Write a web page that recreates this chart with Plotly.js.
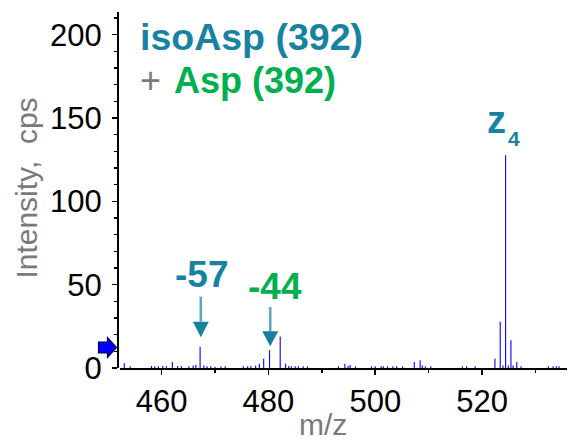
<!DOCTYPE html>
<html>
<head>
<meta charset="utf-8">
<script src="https://cdn.plot.ly/plotly-3.0.1.min.js"></script>
<style>
  html, body { margin: 0; padding: 0; background: #fff; }
  #chart { width: 568px; height: 441px; }
</style>
</head>
<body>
<div id="chart"></div>
<script>
// MS/MS fragment spectrum: m/z of each centroid and its intensity (cps)
const mz = [
  453.0, 454.1, 458.1, 458.7, 459.4, 460.2, 460.9, 462.0, 463.0, 463.7,
  465.1, 465.9, 466.4, 467.2, 467.9, 468.5, 469.2, 470.0, 471.1, 471.9,
  475.3, 476.1, 476.7, 477.6, 478.3, 479.1, 480.2, 482.2, 483.2, 483.8,
  484.3, 485.0, 485.6, 486.5, 487.3, 493.1, 494.3, 494.9, 495.3, 496.3,
  499.3, 500.0, 501.1, 501.5, 502.3, 503.3, 504.0, 505.1, 507.3, 508.4,
  508.8, 509.4, 510.4, 516.3, 517.1, 518.7, 522.4, 523.4, 523.9, 524.4,
  524.9, 525.4, 525.8, 526.5, 527.3, 532.4, 533.3, 533.9, 534.4
];
const intensity = [
  2.8, 1.0, 1.2, 1.0, 1.0, 1.2, 1.0, 3.6, 1.2, 1.0,
  1.0, 1.5, 2.0, 12.7, 1.5, 1.0, 1.0, 0.8, 1.0, 1.0,
  1.0, 1.0, 1.2, 1.5, 2.5, 5.6, 10.7, 18.9, 2.6, 1.2,
  1.0, 1.0, 1.0, 1.0, 1.0, 1.0, 2.6, 1.2, 1.8, 1.0,
  1.0, 1.0, 1.0, 1.0, 1.0, 1.0, 1.0, 1.0, 3.6, 4.6,
  1.5, 1.0, 1.0, 1.0, 1.0, 1.0, 5.6, 27.7, 1.5, 127.7,
  1.5, 16.7, 1.5, 3.6, 1.0, 1.0, 1.0, 1.0, 1.0
];

// Axis ticks
const xTickVals = [460, 480, 500, 520];
const yTickVals = [0, 50, 100, 150, 200];

// Annotated fragments (m/z of the marked peak)
const lossMz = { minus57: 467.2, minus44: 480.2 };
const z4Mz = 524.4;

const peakHeight = m => intensity[mz.indexOf(m)];

const TEAL = 'rgb(24,131,160)';
const TEAL_LINE = 'rgb(92,168,190)';
const TEAL_HEAD = 'rgb(24,127,157)';
const GREEN = '#00b050';
const GREY = '#7a7a7a';
const FONT = '"Liberation Sans", Arial, sans-serif';

const trace = {
  type: 'bar',
  x: mz,
  y: intensity,
  width: 0.22,
  marker: { color: '#1010ff', line: { width: 0 } },
  hoverinfo: 'skip'
};

// Down-pointing marker arrow above a peak: thin shaft plus solid head
function peakArrow(m, tipGap, headLen, shaftTop) {
  const h = peakHeight(m);
  return [
    {
      type: 'line', xref: 'x', yref: 'y', xsizemode: 'pixel', ysizemode: 'pixel',
      xanchor: m, yanchor: h, x0: 0.7, x1: 0.7, y0: tipGap + headLen, y1: shaftTop,
      line: { color: TEAL_LINE, width: 2.6 }
    },
    {
      type: 'path', xref: 'x', yref: 'y', xsizemode: 'pixel', ysizemode: 'pixel',
      xanchor: m, yanchor: h,
      path: `M -7.3,${tipGap + headLen} L 8.7,${tipGap + headLen} L 0.7,${tipGap} Z`,
      fillcolor: TEAL_HEAD, line: { width: 0 }
    }
  ];
}

const shapes = [
  ...peakArrow(lossMz.minus57, 9.6, 15.6, 50.2),
  ...peakArrow(lossMz.minus44, 3.8, 15.0, 43.2),
  // precursor marker on the intensity axis
  {
    type: 'path', xref: 'paper', yref: 'paper', xsizemode: 'pixel', ysizemode: 'pixel',
    xanchor: 0, yanchor: 0,
    path: 'M -19.5,15 L -10.5,15 L -10.5,10.5 L -1.5,20.5 L -10.5,30.5 L -10.5,26 L -19.5,26 Z',
    fillcolor: '#0000ff', line: { color: '#000050', width: 1.2 }
  }
];

const annotations = [
  { xref: 'paper', yref: 'paper', x: 0.0445, y: 0.930, xanchor: 'left', yanchor: 'middle',
    text: '<b>isoAsp (392)</b>', showarrow: false, font: { family: FONT, size: 37.5, color: TEAL } },
  { xref: 'paper', yref: 'paper', x: 0.045, y: 0.8076, xanchor: 'left', yanchor: 'middle',
    text: '+', showarrow: false, font: { family: FONT, size: 36, color: GREY } },
  { xref: 'paper', yref: 'paper', x: 0.1203, y: 0.8076, xanchor: 'left', yanchor: 'middle',
    text: '<b>Asp (392)</b>', showarrow: false, font: { family: FONT, size: 36, color: GREEN } },
  { x: lossMz.minus57, y: peakHeight(lossMz.minus57), xshift: 1, yshift: 72,
    text: '<b>-57</b>', showarrow: false, font: { family: FONT, size: 37, color: TEAL } },
  { x: lossMz.minus44, y: peakHeight(lossMz.minus44), xshift: 5, yshift: 64,
    text: '<b>-44</b>', showarrow: false, font: { family: FONT, size: 37, color: GREEN } },
  { x: z4Mz, y: peakHeight(z4Mz), xshift: -8.8, yshift: 35.6,
    text: '<b>z</b>', showarrow: false, font: { family: FONT, size: 38, color: TEAL } },
  { x: z4Mz, y: peakHeight(z4Mz), xshift: 8.0, yshift: 16.5,
    text: '<b>4</b>', showarrow: false, font: { family: FONT, size: 21, color: TEAL } },
  // axis titles
  { xref: 'paper', yref: 'paper', x: 0.4566, y: -0.158, xanchor: 'center', yanchor: 'middle',
    text: 'm/z', showarrow: false, font: { family: FONT, size: 30, color: GREY } },
  { xref: 'paper', yref: 'paper', x: -0.2042, y: 0.5048, xanchor: 'center', yanchor: 'middle',
    textangle: -90, text: 'Intensity,  cps', showarrow: false,
    font: { family: FONT, size: 30, color: GREY } }
];

const layout = {
  width: 568,
  height: 441,
  margin: { l: 118, r: 1, t: 12, b: 73, pad: 0 },
  paper_bgcolor: '#ffffff',
  plot_bgcolor: '#ffffff',
  showlegend: false,
  font: { family: FONT, size: 31, color: '#000' },
  xaxis: {
    domain: [2 / 449, 1],
    range: [452.2, 535.9],
    anchor: 'y',
    showgrid: false, zeroline: false,
    showline: true, linecolor: '#000', linewidth: 2,
    ticks: 'outside', ticklen: 5, tickwidth: 1.6, tickcolor: '#000',
    tickvals: xTickVals, ticktext: xTickVals.map(String),
    tickfont: { family: FONT, size: 31, color: '#000' },
    minor: { ticks: 'outside', ticklen: 3, tickwidth: 1.4, dtick: 10, tick0: 450, tickcolor: '#000' },
    fixedrange: true
  },
  yaxis: {
    range: [0, 213.6],
    anchor: 'free', position: 0,
    showgrid: false, zeroline: false,
    showline: true, linecolor: '#000', linewidth: 2,
    ticks: 'outside', ticklen: 5, tickwidth: 1.6, tickcolor: '#000',
    tickvals: yTickVals, ticktext: yTickVals.map(String),
    tickfont: { family: FONT, size: 31, color: '#000' },
    ticklabelstandoff: 4,
    minor: { ticks: 'outside', ticklen: 3, tickwidth: 1.4, dtick: 10, tick0: 0, tickcolor: '#000' },
    fixedrange: true
  },
  shapes: shapes,
  annotations: annotations
};

Plotly.newPlot('chart', [trace], layout, { displayModeBar: false, staticPlot: true });
</script>
</body>
</html>
